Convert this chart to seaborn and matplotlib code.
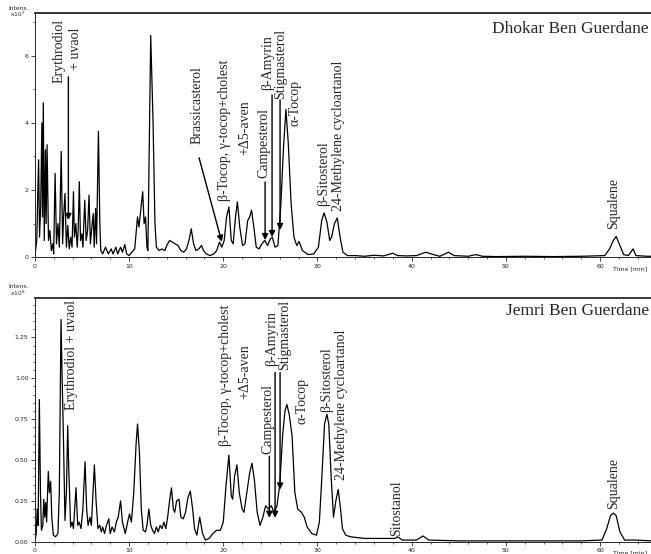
import numpy as np
import pandas as pd
import seaborn as sns
import matplotlib.pyplot as plt
from matplotlib.ticker import MultipleLocator

sns.set_theme(style="ticks")
plt.rcParams['font.family'] = ['DejaVu Sans']

# retention time (min) and intensity (x10^7) - Dhokar Ben Guerdane
dhokar_time = [0.0, 0.2, 0.4, 0.5, 0.62, 0.75, 0.82, 0.9, 1.0, 1.12, 1.2, 1.3, 1.45, 1.6, 1.75,
               1.9, 2.0, 2.15, 2.3, 2.45, 2.6, 2.8, 2.95, 3.05, 3.2, 3.35, 3.5, 3.65, 3.8, 3.95,
               4.1, 4.2, 4.35, 4.5, 4.6, 4.72, 4.85, 5.0, 5.1, 5.3, 5.45, 5.6, 5.75, 5.9, 6.05,
               6.2, 6.3, 6.45, 6.55, 6.75, 6.9, 7.0, 7.2, 7.5, 7.8, 8.1, 8.3, 8.6, 8.8, 9.1,
               9.3, 9.55, 9.75, 10.0, 10.3, 10.6, 10.9, 11.05, 11.2, 11.45, 11.6, 11.75, 11.9, 12.0,
               12.3, 12.55, 12.75, 12.9, 13.2, 13.5, 13.8, 14.0, 14.3, 14.6, 14.9, 15.2, 15.5, 15.8,
               16.1, 16.4, 16.6, 16.85, 17.1, 17.4, 17.7, 17.9, 18.2, 18.6, 19.0, 19.3, 19.6, 19.85,
               20.1, 20.35, 20.6, 20.85, 21.05, 21.3, 21.5, 21.75, 22.05, 22.3, 22.6, 22.8, 23.0,
               23.2, 23.5, 23.8, 24.1, 24.4, 24.7, 25.0, 25.2, 25.5, 25.8, 26.1, 26.4, 26.65, 26.9,
               27.2, 27.5, 27.8, 28.05, 28.4, 29.0, 29.6, 30.1, 30.45, 30.7, 31.0, 31.3, 31.5, 31.8,
               32.1, 32.4, 32.7, 33.2, 34.0, 35.0, 36.0, 37.0, 38.0, 38.5, 39.5, 40.5, 41.5, 42.3,
               43.0, 43.9, 44.5, 46.0, 46.8, 47.5, 49.0, 52.0, 55.0, 58.0, 60.5, 61.0, 61.4, 61.7,
               62.1, 62.5, 63.0, 63.5, 63.8, 65.0, 65.5]
dhokar_int = [0.0, 0.5, 2.9, 0.6, 1.5, 4.0, 1.2, 4.6, 0.5, 3.2, 1.0, 3.35, 0.5, 0.8, 0.2,
              0.4, 0.1, 2.5, 0.4, 1.0, 0.3, 3.15, 0.4, 1.2, 1.9, 0.3, 0.95, 0.25, 0.6, 0.3,
              1.95, 0.6, 1.0, 0.3, 0.8, 2.25, 0.5, 0.7, 0.3, 1.7, 0.5, 0.8, 1.85, 0.4, 0.9,
              1.3, 0.3, 1.45, 0.4, 3.75, 1.0, 0.2, 0.1, 0.3, 0.1, 0.25, 0.1, 0.3, 0.1, 0.3,
              0.15, 0.38, 0.1, 0.05, 0.15, 0.25, 1.2, 0.9, 1.3, 1.95, 1.0, 1.2, 0.3, 0.2,
              6.6, 4.0, 1.0, 0.3, 0.2, 0.25, 0.2, 0.35, 0.5, 0.45, 0.4, 0.35, 0.2, 0.15,
              0.25, 0.55, 0.85, 0.4, 0.2, 0.25, 0.35, 0.2, 0.1, 0.05, 0.1, 0.2, 0.45, 0.3,
              0.5, 1.2, 1.5, 0.5, 0.4, 1.2, 1.65, 0.9, 0.35, 0.4, 1.1, 1.2, 1.4,
              1.0, 0.3, 0.25, 0.4, 0.5, 0.35, 0.55, 0.6, 0.3, 0.35, 1.5, 3.3, 4.4, 3.4,
              1.6, 0.6, 0.35, 0.47, 0.2, 0.08, 0.1, 0.3, 1.1, 1.32, 1.05, 0.5, 0.6, 1.0,
              1.17, 0.6, 0.15, 0.05, 0.05, 0.03, 0.06, 0.04, 0.12, 0.05, 0.04, 0.05, 0.15, 0.08,
              0.03, 0.15, 0.05, 0.03, 0.08, 0.03, 0.02, 0.03, 0.02, 0.03, 0.05, 0.25, 0.5, 0.62,
              0.35, 0.08, 0.05, 0.25, 0.05, 0.03, 0.03]

# retention time (min) and intensity (x10^8) - Jemri Ben Guerdane
jemri_time = [0.0, 0.15, 0.25, 0.35, 0.48, 0.6, 0.7, 0.85, 0.95, 1.05, 1.15, 1.25, 1.43, 1.55, 1.68,
              1.8, 1.97, 2.2, 2.45, 2.6, 2.68, 2.78, 2.9, 3.03, 3.2, 3.35, 3.49, 3.6, 3.8, 3.95,
              4.1, 4.37, 4.55, 4.7, 4.9, 5.1, 5.33, 5.5, 5.65, 5.85, 6.0, 6.32, 6.5, 6.7, 6.9,
              7.05, 7.2, 7.4, 7.6, 7.85, 8.0, 8.2, 8.45, 8.65, 8.85, 9.1, 9.3, 9.6, 9.85, 10.05,
              10.25, 10.5, 10.75, 10.9, 11.1, 11.3, 11.5, 11.75, 11.9, 12.1, 12.3, 12.5, 12.7, 12.9,
              13.1, 13.3, 13.5, 13.7, 13.9, 14.1, 14.3, 14.5, 14.7, 14.85, 15.05, 15.3, 15.5, 15.75,
              16.0, 16.25, 16.5, 16.75, 16.95, 17.2, 17.5, 17.8, 18.1, 18.5, 18.9, 19.3, 19.7, 20.0,
              20.3, 20.6, 20.85, 21.0, 21.2, 21.45, 21.7, 22.0, 22.2, 22.5, 22.8, 23.05, 23.3, 23.6,
              23.9, 24.2, 24.5, 24.8, 25.1, 25.4, 25.7, 26.0, 26.3, 26.55, 26.75, 27.0, 27.3, 27.6,
              27.9, 28.3, 28.6, 28.9, 29.4, 29.9, 30.2, 30.45, 30.75, 31.0, 31.2, 31.45, 31.7, 31.95,
              32.2, 32.45, 32.65, 33.0, 33.5, 35.0, 37.0, 38.2, 38.5, 39.0, 40.5, 41.2, 41.8, 45.0,
              50.0, 55.0, 58.0, 60.2, 60.7, 61.1, 61.4, 61.7, 62.1, 62.6, 63.7, 65.5]
jemri_int = [0.0, 0.05, 0.2, 0.1, 0.87, 0.3, 0.07, 0.1, 0.26, 0.15, 0.24, 0.12, 0.43, 0.3, 0.37,
             0.15, 0.04, 0.03, 0.05, 0.3, 0.77, 1.36, 1.0, 0.65, 0.13, 0.3, 0.71, 0.45, 0.09, 0.12,
             0.08, 0.33, 0.1, 0.12, 0.08, 0.2, 0.49, 0.2, 0.1, 0.15, 0.1, 0.47, 0.25, 0.08, 0.1,
             0.06, 0.09, 0.05, 0.1, 0.14, 0.05, 0.09, 0.06, 0.12, 0.15, 0.25, 0.12, 0.05, 0.12, 0.17,
             0.12, 0.3, 0.6, 0.72, 0.55, 0.2, 0.07, 0.06, 0.1, 0.2, 0.1, 0.07, 0.05, 0.09,
             0.06, 0.1, 0.08, 0.12, 0.08, 0.15, 0.25, 0.33, 0.2, 0.18, 0.25, 0.26, 0.15, 0.14,
             0.18, 0.27, 0.31, 0.2, 0.08, 0.04, 0.15, 0.05, 0.01, 0.02, 0.05, 0.07, 0.07, 0.12,
             0.35, 0.53, 0.28, 0.26, 0.4, 0.47, 0.3, 0.2, 0.18, 0.3, 0.42, 0.48, 0.38, 0.18,
             0.1, 0.15, 0.22, 0.2, 0.22, 0.18, 0.22, 0.35, 0.65, 0.8, 0.84, 0.78, 0.65, 0.3,
             0.2, 0.18, 0.15, 0.09, 0.05, 0.04, 0.12, 0.38, 0.72, 0.78, 0.72, 0.4, 0.15, 0.25,
             0.32, 0.2, 0.08, 0.04, 0.03, 0.02, 0.02, 0.02, 0.03, 0.01, 0.01, 0.035, 0.01, 0.005,
             0.005, 0.005, 0.005, 0.01, 0.08, 0.16, 0.175, 0.16, 0.06, 0.01, 0.01, 0.005]

serif = ['Liberation Serif', 'DejaVu Serif']
lab_fs = 10

fig = plt.figure(figsize=(6.51, 5.54), dpi=100)
ax1 = fig.add_axes([0.0535, 0.5356, 0.9465, 0.4404])
ax2 = fig.add_axes([0.0535, 0.0222, 0.9465, 0.4394])

df1 = pd.DataFrame({'time': dhokar_time, 'intens': dhokar_int})
df2 = pd.DataFrame({'time': jemri_time, 'intens': jemri_int})
sns.lineplot(data=df1, x='time', y='intens', ax=ax1, color='black', lw=0.9,
             sort=False, estimator=None)
sns.lineplot(data=df2, x='time', y='intens', ax=ax2, color='black', lw=0.9,
             sort=False, estimator=None)

ax1.set_ylim(0, 7.26)
ax2.set_ylim(0, 1.49)
ax1.set_yticks([0, 2, 4, 6])
ax1.yaxis.set_minor_locator(MultipleLocator(1))
ax2.set_yticks([0, 0.25, 0.5, 0.75, 1.0, 1.25])
ax2.set_yticklabels(['0.00', '0.25', '0.50', '0.75', '1.00', '1.25'])
ax2.yaxis.set_minor_locator(MultipleLocator(0.05))

for ax in (ax1, ax2):
    ax.set_xlim(0, 65.4)
    ax.set_xticks([0, 10, 20, 30, 40, 50, 60])
    ax.xaxis.set_minor_locator(MultipleLocator(2))
    ax.set_xlabel('')
    ax.set_ylabel('')
    ax.tick_params(which='major', length=3, width=0.6, labelsize=4.5, pad=1.5)
    ax.tick_params(which='minor', length=1.6, width=0.5)
    ax.spines['right'].set_visible(False)
    ax.spines['top'].set_linewidth(1.3)
    ax.spines['left'].set_linewidth(0.7)
    ax.spines['bottom'].set_linewidth(0.7)
    ax.text(63.2, -0.035, 'Time [min]', transform=ax.get_xaxis_transform(),
            ha='center', va='top', fontsize=4.5)

fig.text(0.028, 0.99, 'Intens.\nx10$^7$', ha='center', va='top', fontsize=4.3, linespacing=0.9)
fig.text(0.028, 0.487, 'Intens.\nx10$^8$', ha='center', va='top', fontsize=4.3, linespacing=0.9)

ax1.text(65.2, 6.80, 'Dhokar Ben Guerdane', ha='right', va='center', fontsize=12.5, family=serif)
ax2.text(65.2, 1.413, 'Jemri Ben Guerdane', ha='right', va='center', fontsize=12.5, family=serif)

top_labels = [
    ('Erythrodiol', 2.62, 6.14), ('+ uvaol', 4.32, 6.21), ('Brassicasterol', 17.19, 4.53),
    ('β-Tocop, γ-tocop+cholest', 20.14, 3.79), ('+Δ5-aven', 22.31, 3.86),
    ('Campesterol', 24.3, 3.39), ('β-Amyrin', 24.7, 5.80), ('Stigmasterol', 26.1, 5.75),
    ('α-Tocop', 27.6, 4.59), ('β-Sitosterol', 30.70, 2.49),
    ('24-Methylene cycloartanol', 32.24, 3.60), ('Squalene', 61.41, 1.60),
]
bottom_labels = [
    ('Erythrodiol + uvaol', 3.84, 1.143), ('β-Tocop, γ-tocop+cholest', 20.19, 1.02),
    ('+Δ5-aven', 22.31, 1.038), ('Campesterol', 24.7, 0.751), ('β-Amyrin', 25.15, 1.242),
    ('Stigmasterol', 26.55, 1.267), ('α-Tocop', 28.4, 0.859), ('β-Sitosterol', 31.02, 0.989),
    ('24-Methylene cycloartanol', 32.58, 0.835), ('Sitostanol', 38.45, 0.205),
    ('Squalene', 61.41, 0.359),
]
for ax, labels in ((ax1, top_labels), (ax2, bottom_labels)):
    for txt, x, y in labels:
        ax.text(x, y, txt, rotation=90, ha='center', va='center', fontsize=lab_fs, family=serif)

arrow = dict(arrowstyle='-|>', color='black', lw=1.0, mutation_scale=9, shrinkA=0, shrinkB=0)
top_arrows = [((3.56, 5.37), (3.56, 1.11)), ((17.43, 2.96), (19.84, 0.46)),
              ((24.44, 2.24), (24.44, 0.51)), ((25.18, 4.83), (25.18, 0.60)),
              ((26.03, 4.68), (26.03, 0.81))]
bottom_arrows = [((24.89, 0.523), (24.89, 0.146)), ((25.50, 1.035), (25.50, 0.146)),
                 ((26.03, 1.035), (26.03, 0.319))]
for ax, arrows in ((ax1, top_arrows), (ax2, bottom_arrows)):
    for tail, tip in arrows:
        ax.annotate('', xy=tip, xytext=tail, arrowprops=arrow)

fig.savefig('out.png', dpi=100)
